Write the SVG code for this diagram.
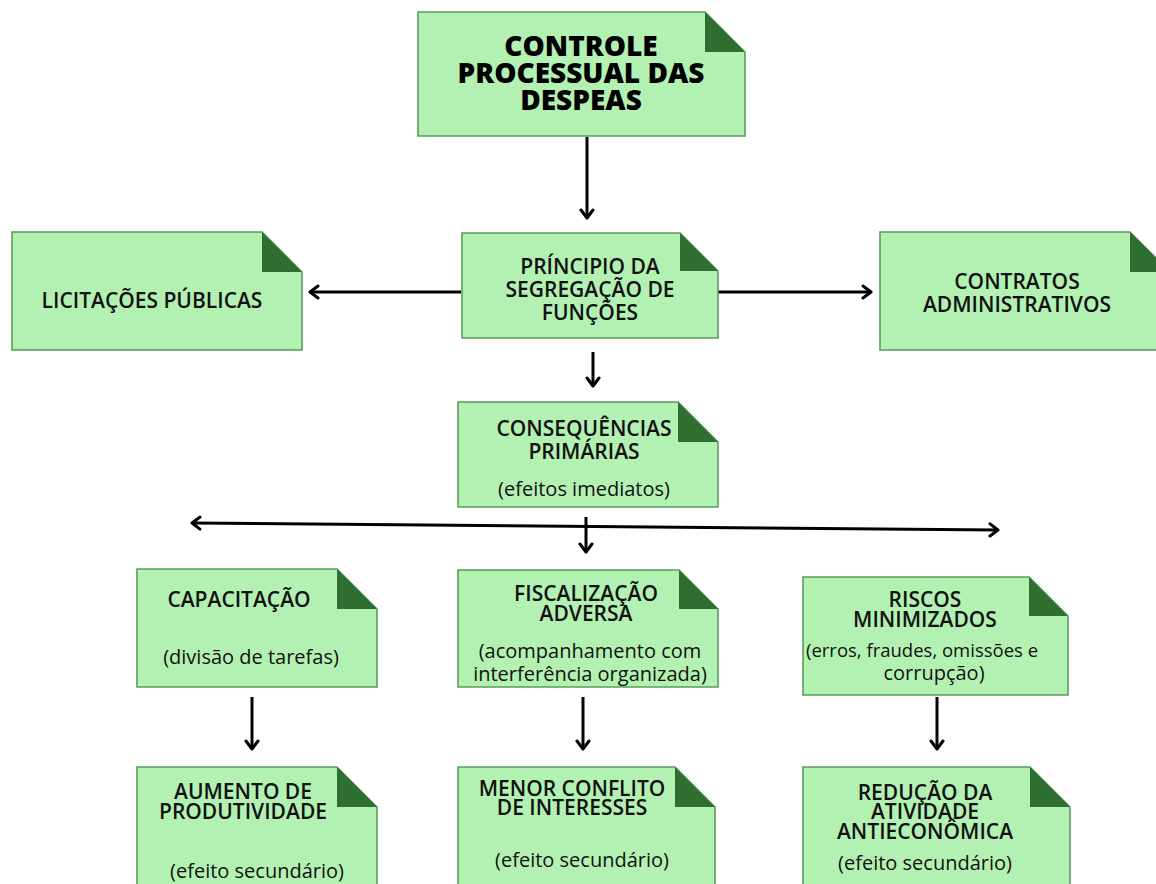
<svg xmlns="http://www.w3.org/2000/svg" width="1156" height="884" viewBox="0 0 1156 884">
<defs>
<style>
.box{fill:#b3f1b3;stroke:#5a9d5a;stroke-width:1.6}
.fold{fill:#2f6e31}
.h{font-family:"Open Sans","Liberation Sans",sans-serif;font-weight:600;font-size:21px;fill:#111;text-anchor:middle}
.t{font-family:"Open Sans","Liberation Sans",sans-serif;font-weight:800;font-size:28px;fill:#000;text-anchor:middle}
.r{font-family:"Open Sans","Liberation Sans",sans-serif;font-weight:400;font-size:20px;fill:#111;text-anchor:middle}
.c{fill:none;stroke:#000;stroke-width:3}
</style>
<marker id="ah" viewBox="-12 -8 14 16" markerWidth="14" markerHeight="16" refX="0" refY="0" orient="auto-start-reverse" markerUnits="userSpaceOnUse">
<path d="M-8,-6 L0,0 L-8,6" fill="none" stroke="#000" stroke-width="3" stroke-linecap="round" stroke-linejoin="round"/>
</marker>
</defs>
<rect width="1156" height="884" fill="#fff"/>
<g id="connectors">
<line class="c" x1="587" y1="137" x2="587" y2="218" marker-end="url(#ah)"/>
<line class="c" x1="461" y1="292" x2="310" y2="292" marker-end="url(#ah)"/>
<line class="c" x1="718" y1="292" x2="871" y2="292" marker-end="url(#ah)"/>
<line class="c" x1="593" y1="352" x2="593" y2="386" marker-end="url(#ah)"/>
<line class="c" x1="192" y1="523" x2="998" y2="530" marker-start="url(#ah)" marker-end="url(#ah)"/>
<line class="c" x1="586" y1="517" x2="586" y2="552" marker-end="url(#ah)"/>
<line class="c" x1="252" y1="697" x2="252" y2="749" marker-end="url(#ah)"/>
<line class="c" x1="583" y1="697" x2="583" y2="749" marker-end="url(#ah)"/>
<line class="c" x1="937" y1="697" x2="937" y2="749" marker-end="url(#ah)"/>
</g>
<g id="n-controle">
<polygon class="box" points="418,12 705,12 745,52 745,136 418,136"/>
<polygon class="fold" points="705,12 705,52 745,52"/>
<text class="t" x="581" y="56">CONTROLE</text>
<text class="t" x="581" y="83">PROCESSUAL DAS</text>
<text class="t" x="581" y="110">DESPEAS</text>
</g>
<g id="n-licitacoes">
<polygon class="box" points="12,232 262,232 302,272 302,350 12,350"/>
<polygon class="fold" points="262,232 262,272 302,272"/>
<text class="h" x="152" y="308">LICITAÇÕES PÚBLICAS</text>
</g>
<g id="n-principio">
<polygon class="box" points="462,233 680,233 718,271 718,338 462,338"/>
<polygon class="fold" points="680,233 680,271 718,271"/>
<text class="h" x="590" y="274">PRÍNCIPIO DA</text>
<text class="h" x="590" y="297">SEGREGAÇÃO DE</text>
<text class="h" x="590" y="320">FUNÇÕES</text>
</g>
<g id="n-contratos">
<polygon class="box" points="880,232 1130,232 1170,272 1170,350 880,350"/>
<polygon class="fold" points="1130,232 1130,272 1170,272"/>
<text class="h" x="1017" y="289">CONTRATOS</text>
<text class="h" x="1017" y="312">ADMINISTRATIVOS</text>
</g>
<g id="n-consequencias">
<polygon class="box" points="458,402 678,402 718,442 718,507 458,507"/>
<polygon class="fold" points="678,402 678,442 718,442"/>
<text class="h" x="584" y="436">CONSEQUÊNCIAS</text>
<text class="h" x="584" y="459">PRIMÁRIAS</text>
<text class="r" x="584" y="496">(efeitos imediatos)</text>
</g>
<g id="n-capacitacao">
<polygon class="box" points="137,569 337,569 377,609 377,687 137,687"/>
<polygon class="fold" points="337,569 337,609 377,609"/>
<text class="h" x="239" y="607">CAPACITAÇÃO</text>
<text class="r" x="251" y="664">(divisão de tarefas)</text>
</g>
<g id="n-fiscalizacao">
<polygon class="box" points="458,570 679,570 718,609 718,687 458,687"/>
<polygon class="fold" points="679,570 679,609 718,609"/>
<text class="h" x="586" y="601">FISCALIZAÇÃO</text>
<text class="h" x="586" y="621">ADVERSA</text>
<text class="r" x="590" y="658">(acompanhamento com</text>
<text class="r" x="590" y="681">interferência organizada)</text>
</g>
<g id="n-riscos">
<polygon class="box" points="803,577 1029,577 1068,616 1068,695 803,695"/>
<polygon class="fold" points="1029,577 1029,616 1068,616"/>
<text class="h" x="925" y="607">RISCOS</text>
<text class="h" x="925" y="627">MINIMIZADOS</text>
<text class="r" x="922" y="657" style="font-size:18.5px">(erros, fraudes, omissões e</text>
<text class="r" x="934" y="680">corrupção)</text>
</g>
<g id="n-aumento">
<polygon class="box" points="137,767 337,767 377,807 377,900 137,900"/>
<polygon class="fold" points="337,767 337,807 377,807"/>
<text class="h" x="243" y="799">AUMENTO DE</text>
<text class="h" x="243" y="819">PRODUTIVIDADE</text>
<text class="r" x="257" y="878">(efeito secundário)</text>
</g>
<g id="n-menor">
<polygon class="box" points="458,767 675,767 715,807 715,900 458,900"/>
<polygon class="fold" points="675,767 675,807 715,807"/>
<text class="h" x="572" y="796">MENOR CONFLITO</text>
<text class="h" x="572" y="815">DE INTERESSES</text>
<text class="r" x="582" y="867">(efeito secundário)</text>
</g>
<g id="n-reducao">
<polygon class="box" points="803,767 1030,767 1070,807 1070,900 803,900"/>
<polygon class="fold" points="1030,767 1030,807 1070,807"/>
<text class="h" x="925" y="800">REDUÇÃO DA</text>
<text class="h" x="925" y="819">ATIVIDADE</text>
<text class="h" x="925" y="839">ANTIECONÔMICA</text>
<text class="r" x="925" y="870">(efeito secundário)</text>
</g>
</svg>
